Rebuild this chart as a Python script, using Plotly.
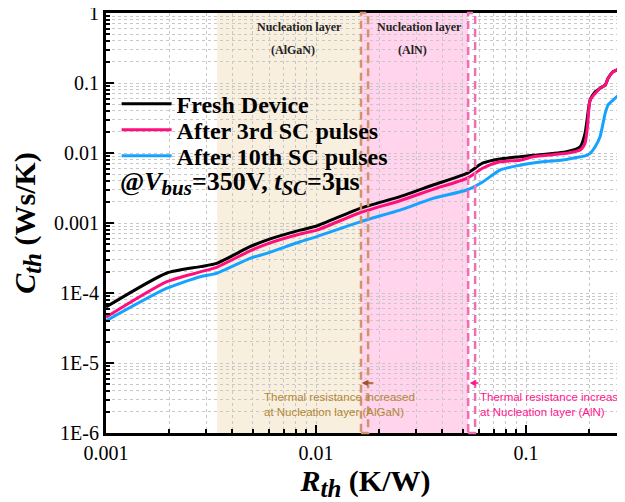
import plotly.graph_objects as go

# ---------------- data ----------------
r_fresh = [0.001, 0.00195, 0.00281, 0.00336, 0.00485, 0.00582, 0.0084, 0.01007, 0.0162, 0.0251,
           0.0361, 0.0522, 0.0624, 0.0751, 0.0936, 0.108, 0.156, 0.181, 0.191, 0.196, 0.2018,
           0.2133, 0.225, 0.238, 0.2457, 0.2595, 0.2805, 0.296]
c_fresh = [6.3e-5, 1.93e-4, 2.38e-4, 2.65e-4, 4.58e-4, 5.7e-4, 7.9e-4, 9.06e-4, 1.62e-3, 2.38e-3,
           3.49e-3, 5.1e-3, 7.2e-3, 8.2e-3, 8.85e-3, 9.27e-3, 0.01044, 0.0123, 0.0193, 0.033, 0.057,
           0.075, 0.084, 0.0936, 0.1167, 0.145, 0.162, 0.181]

r_3rd = [0.001, 0.00195, 0.00281, 0.00336, 0.00485, 0.00582, 0.0084, 0.01007, 0.0162, 0.0251,
         0.0361, 0.0522, 0.0624, 0.0751, 0.0936, 0.108, 0.156, 0.181, 0.191, 0.196, 0.2018,
         0.2133, 0.225, 0.238, 0.2457, 0.2595, 0.2805, 0.296]
c_3rd = [4.5e-5, 1.45e-4, 2.0e-4, 2.33e-4, 4.0e-4, 5.0e-4, 6.97e-4, 7.9e-4, 1.40e-3, 2.08e-3,
         3.03e-3, 4.35e-3, 6.1e-3, 7.5e-3, 7.9e-3, 8.85e-3, 9.9e-3, 0.011, 0.0139, 0.0238, 0.057,
         0.071, 0.084, 0.0936, 0.1167, 0.145, 0.162, 0.181]

r_10th = [0.001, 0.00195, 0.00281, 0.00336, 0.00485, 0.00582, 0.0084, 0.01007, 0.0162, 0.0251,
          0.0361, 0.0522, 0.0624, 0.0751, 0.0936, 0.108, 0.156, 0.181, 0.191, 0.2018,
          0.2133, 0.225, 0.238, 0.2457, 0.2595, 0.2805, 0.296]
c_10th = [4.0e-5, 1.17e-4, 1.71e-4, 1.91e-4, 3.13e-4, 3.69e-4, 5.4e-4, 6.4e-4, 1.04e-3, 1.53e-3,
          2.25e-3, 2.96e-3, 3.89e-3, 5.7e-3, 6.7e-3, 7.2e-3, 8.1e-3, 8.8e-3, 9.1e-3, 9.9e-3,
          0.0123, 0.0171, 0.0369, 0.0485, 0.057, 0.071, 0.0936]

series_names = ["Fresh Device", "After 3rd SC pulses", "After 10th SC pulses"]
series_colors = ["#000000", "#ff0f7e", "#16a2ff"]

# shaded layer regions (R_th bounds) and shifted boundaries
algan_region = [0.00338, 0.01637]
aln_region = [0.01637, 0.0530]
algan_shift = [0.01637, 0.0177]
aln_shift = [0.0530, 0.0572]

y_tickvals = [1, 0.1, 0.01, 0.001, 1e-4, 1e-5, 1e-6]
y_ticktext = ["1", "0.1", "0.01", "0.001", "1E-4", "1E-5", "1E-6"]
x_tickvals = [0.001, 0.01, 0.1]
x_ticktext = ["0.001", "0.01", "0.1"]

# ---------------- figure ----------------
serif = "Liberation Serif"
legend_ids = ["legend", "legend2", "legend3"]
legend_y = [0.783, 0.721, 0.659]

fig = go.Figure()
for rr, cc, name, col, lg in zip([r_fresh, r_3rd, r_10th], [c_fresh, c_3rd, c_10th],
                                 series_names, series_colors, legend_ids):
    fig.add_trace(go.Scatter(x=rr, y=cc, mode="lines", name=f"<b>{name}</b>", legend=lg,
                             line=dict(color=col, width=3, shape="spline", smoothing=0.6)))

# region shading
fig.add_shape(type="rect", xref="x", yref="paper", x0=algan_region[0], x1=algan_region[1],
              y0=0, y1=1, fillcolor="#f8efdf", line_width=0, layer="below")
fig.add_shape(type="rect", xref="x", yref="paper", x0=aln_region[0], x1=aln_region[1],
              y0=0, y1=1, fillcolor="#ffd4ec", line_width=0, layer="below")
fig.add_shape(type="rect", xref="x", yref="paper", x0=algan_shift[0], x1=algan_shift[1],
              y0=0, y1=1, line=dict(color="#d0946c", width=2.5, dash="8px,5px"), layer="above")
fig.add_shape(type="rect", xref="x", yref="paper", x0=aln_shift[0], x1=aln_shift[1],
              y0=0, y1=1, line=dict(color="#f06eb4", width=2.5, dash="8px,5px"), layer="above")

minor_vals = [m * 10.0 ** k for k in range(-7, 1) for m in range(2, 10)]

axis_common = dict(type="log", showline=True, linewidth=3, linecolor="black", mirror=True,
                   ticks="inside", ticklen=8, tickwidth=2, tickcolor="black",
                   showgrid=True, gridcolor="#c8c8c8", gridwidth=1, griddash="dot",
                   tickfont=dict(family=serif, size=20, color="black"),
                   ticklabeloverflow="allow",
                   zeroline=False, automargin=False)
minor_common = dict(tickmode="array", tickvals=minor_vals, ticks="inside", ticklen=4,
                    tickwidth=2, tickcolor="black", showgrid=True, gridcolor="#c8c8c8",
                    griddash="dot")

fig.update_xaxes(range=[-3, -0.529], tickmode="array", tickvals=x_tickvals, ticktext=x_ticktext,
                 minor=minor_common,
                 title=dict(text="<b><i>R</i><sub><i><span style='font-size:25px'>th</span></i></sub> (K/W)</b>",
                            font=dict(family=serif, size=30, color="black"), standoff=4),
                 **axis_common)
fig.update_yaxes(range=[-6, 0], tickmode="array", tickvals=y_tickvals, ticktext=y_ticktext,
                 minor=minor_common,
                 title=dict(text="<b><i>C</i><sub><i><span style='font-size:25px'>th</span></i></sub> (Ws/K)</b>",
                            font=dict(family=serif, size=30, color="black"), standoff=21),
                 **axis_common)

# annotations
ann_font = dict(family=serif, size=12, color="#222222")
fig.add_annotation(x=-2.081, y=-0.196, xref="x", yref="y", text="<b>Nucleation layer</b>",
                   showarrow=False, font=ann_font)
fig.add_annotation(x=-2.1095, y=-0.529, xref="x", yref="y", text="<b>(AlGaN)</b>",
                   showarrow=False, font=ann_font)
fig.add_annotation(x=-1.507, y=-0.196, xref="x", yref="y", text="<b>Nucleation layer</b>",
                   showarrow=False, font=ann_font)
fig.add_annotation(x=-1.543, y=-0.529, xref="x", yref="y", text="<b>(AlN)</b>",
                   showarrow=False, font=ann_font)

fig.add_annotation(x=-2.257, y=-5.593, xref="x", yref="y", xanchor="left",
                   text="Thermal resistance increased<br>at Nucleation layer (AlGaN)",
                   showarrow=False, align="left",
                   font=dict(family="Liberation Sans", size=11.5, color="#b08734"))
fig.add_annotation(x=-1.229, y=-5.593, xref="x", yref="y", xanchor="left",
                   text="Thermal resistance increased<br>at Nucleation layer (AlN)",
                   showarrow=False, align="left",
                   font=dict(family="Liberation Sans", size=11.5, color="#ff1490"))
# small arrows
fig.add_annotation(x=-1.782, y=-5.286, ax=-1.72, ay=-5.286, xref="x", yref="y",
                   axref="x", ayref="y", text="", showarrow=True, arrowhead=2,
                   arrowsize=0.8, arrowwidth=1.5, arrowcolor="#a0522d")
fig.add_annotation(x=-1.268, y=-5.286, ax=-1.22, ay=-5.286, xref="x", yref="y",
                   axref="x", ayref="y", text="", showarrow=True, arrowhead=2,
                   arrowsize=0.8, arrowwidth=1.5, arrowcolor="#ff1490")

fig.add_annotation(x=0.023, y=0.594, xref="paper", yref="paper", xanchor="left",
                   text="<b>@<i>V</i><sub><i><span style='font-size:21px'>bus</span></i></sub>=350V, "
                        "<i>t</i><sub><i><span style='font-size:21px'>SC</span></i></sub>=3μs</b>",
                   showarrow=False, font=dict(family=serif, size=26, color="black"))

legend_style = dict(x=0.0204, xanchor="left", yanchor="middle",
                    bgcolor="rgba(0,0,0,0)", borderwidth=0,
                    font=dict(family=serif, size=24, color="black"), itemwidth=50)

# the page adds an 8px body margin, so the figure is sized to fit the window exactly
fig.update_layout(
    width=617, height=494,
    margin=dict(l=98, r=0, t=5, b=69, autoexpand=False),
    paper_bgcolor="white", plot_bgcolor="white",
    showlegend=True,
    legend=dict(y=legend_y[0], **legend_style),
    legend2=dict(y=legend_y[1], **legend_style),
    legend3=dict(y=legend_y[2], **legend_style),
)

fig.write_html("out.html")
